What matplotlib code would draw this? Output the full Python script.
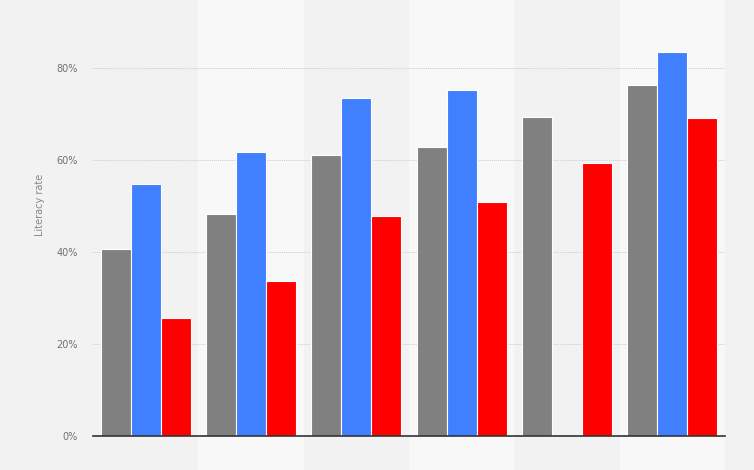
import matplotlib.pyplot as plt
from matplotlib.transforms import blended_transform_factory

# bar values in percent
gray_vals = [40.6, 48.3, 61.1, 62.8, 69.3, 76.3]
blue_vals = [54.8, 61.7, 73.5, 75.2, None, 83.5]
red_vals = [25.6, 33.7, 47.8, 50.9, 59.3, 69.1]
y_ticks = [0, 20, 40, 60, 80]

fig = plt.figure(figsize=(7.54, 4.70), dpi=100, facecolor="#f2f2f2")
ax = fig.add_axes([93 / 754, 34 / 470, 632 / 754, 414 / 470])
ax.set_facecolor("none")

n = len(gray_vals)
# alternating lighter bands over the whole figure height
trans = blended_transform_factory(ax.transData, fig.transFigure)
for i in range(1, n, 2):
    ax.add_patch(plt.Rectangle((i - 0.5, 0), 1, 1, transform=trans,
                               facecolor="#f8f8f8", edgecolor="none",
                               clip_on=False, zorder=0))

w = 0.285
for i in range(n):
    ax.bar(i - w, gray_vals[i], w, color="#808080", edgecolor="white", linewidth=0.8, zorder=3)
    if blue_vals[i] is not None:
        ax.bar(i, blue_vals[i], w, color="#4080ff", edgecolor="white", linewidth=0.8, zorder=3)
    ax.bar(i + w, red_vals[i], w, color="#ff0000", edgecolor="white", linewidth=0.8, zorder=3)

ax.set_xlim(-0.5, n - 0.5)
ax.set_ylim(0, 90)
ax.set_yticks(y_ticks)
ax.set_yticklabels([f"{t}%" for t in y_ticks], color="#707070", fontsize=7)
ax.set_xticks([])
ax.tick_params(axis="y", length=0, pad=11)
ax.yaxis.grid(True, linestyle=(0, (1, 1)), color="#cccccc", linewidth=0.7, zorder=1)
ax.set_axisbelow(True)

for s in ["top", "right", "left"]:
    ax.spines[s].set_visible(False)
ax.spines["bottom"].set_color("#333333")
ax.spines["bottom"].set_linewidth(1.2)
ax.spines["bottom"].set_zorder(4)

ax.set_ylabel("Literacy rate", color="#888888", fontsize=7)
ax.yaxis.set_label_coords(-0.076, 0.558)

fig.savefig("out.png", dpi=100, facecolor=fig.get_facecolor())
